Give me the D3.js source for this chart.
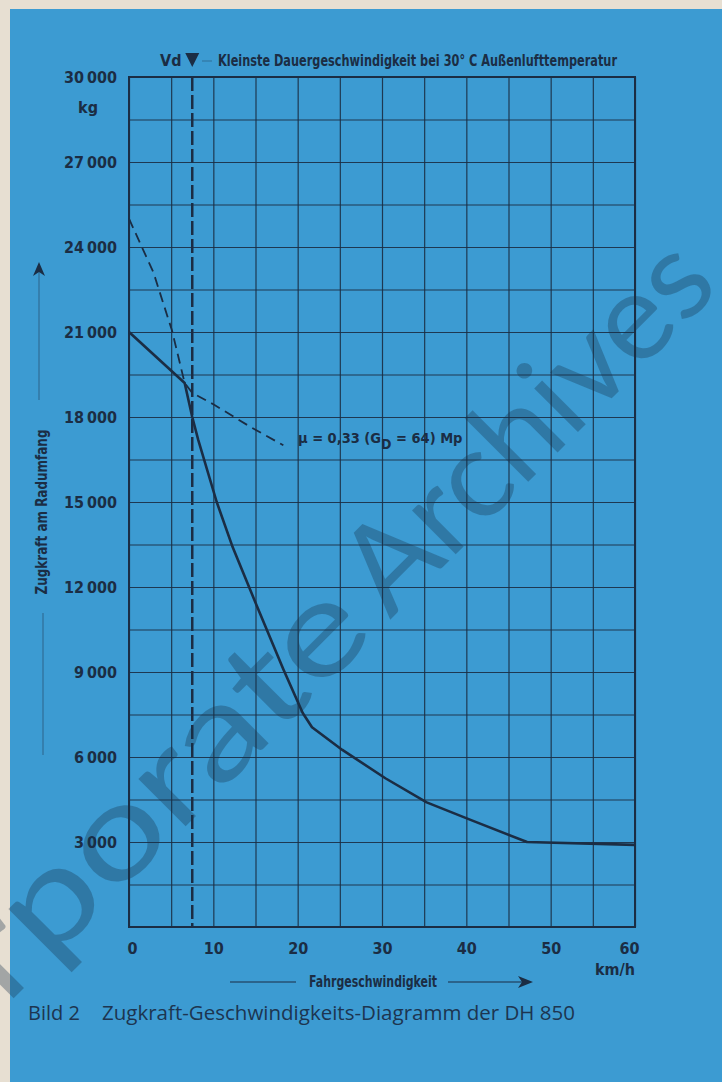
<!DOCTYPE html>
<html>
<head>
<meta charset="utf-8">
<script src="https://cdn.jsdelivr.net/npm/d3@7"></script>
<style>
  body { margin: 0; background: #e7dfd2; }
  svg { display: block; }
  .lbl { font-family: "Liberation Sans Narrow", "DejaVu Sans Condensed", sans-serif; font-weight: bold; fill: #1b2d44; }
</style>
</head>
<body>
<svg id="chart" width="722" height="1082"></svg>
<script>
// tick values
var xTickLabels = [0, 10, 20, 30, 40, 50, 60];
var yTickLabels = [3000, 6000, 9000, 12000, 15000, 18000, 21000, 24000, 27000, 30000];

// Zugkraft am Radumfang (km/h, kg)
var zugSpeed = [0, 6.6, 7.5, 8.2, 10.4, 12.3, 15.2, 18.3, 20.6, 21.7, 25.3, 30.4, 35.3, 40.5, 47.2, 60];
var zugForce = [21000, 19200, 18000, 17200, 15000, 13400, 11300, 9100, 7550, 7050, 6250, 5250, 4400, 3780, 3000, 2900];

// Reibungsgrenze mu = 0,33
var muSpeed = [0, 2.9, 5.1, 6.6, 7.5, 10, 14.4, 18.3];
var muForce = [25000, 23100, 21050, 19200, 18850, 18450, 17650, 17000];

var vd = 7.5;

var ink = "#1b2d44";
var margin = {top: 77, right: 87, bottom: 155, left: 129};
var width = 635 - margin.left,
    height = 927 - margin.top;

var svg = d3.select("#chart");

// page background
svg.append("rect")
  .attr("x", 10).attr("y", 9)
  .attr("width", 712).attr("height", 1073)
  .attr("fill", "#3c9bd2");

var x = d3.scaleLinear().domain([0, 60]).range([0, width]);
var y = d3.scaleLinear().domain([0, 30000]).range([height, 0]);

var g = svg.append("g")
  .attr("transform", "translate(" + margin.left + "," + margin.top + ")");

//Grid
g.append("g")
  .attr("class", "grid")
  .call(d3.axisLeft(y).tickValues(d3.range(0, 30001, 1500)).tickSize(-width).tickFormat(""));
g.append("g")
  .attr("class", "grid")
  .attr("transform", "translate(0," + height + ")")
  .call(d3.axisBottom(x).tickValues(d3.range(0, 61, 5)).tickSize(-height).tickFormat(""));
g.selectAll(".grid .domain").remove();
g.selectAll(".grid line")
  .style("stroke", ink)
  .style("stroke-width", 1.2)
  .style("stroke-opacity", 0.9);

//Frame
g.append("rect")
  .attr("width", width).attr("height", height)
  .attr("fill", "none")
  .style("stroke", ink)
  .style("stroke-width", 2);

//Axis labels
var fmt = function(d) { return d3.format(",")(d).replace(",", "\u2009"); };

var yAxis = g.append("g")
  .call(d3.axisLeft(y).tickValues(yTickLabels).tickSize(0).tickPadding(12).tickFormat(fmt));
yAxis.select(".domain").remove();
yAxis.selectAll("text").attr("class", "lbl").style("font-size", "16px");

var xAxis = g.append("g")
  .attr("transform", "translate(0," + height + ")")
  .call(d3.axisBottom(x).tickValues(xTickLabels).tickSize(0).tickPadding(16));
xAxis.select(".domain").remove();
xAxis.selectAll("text").attr("class", "lbl").style("font-size", "16px")
  .attr("dx", function(d) { return d == 0 ? 3 : (d == 60 ? -6 : 0); });

svg.append("text").attr("class", "lbl")
  .attr("x", 88).attr("y", 113)
  .attr("text-anchor", "middle")
  .style("font-size", "16px")
  .text("kg");

svg.append("text").attr("class", "lbl")
  .attr("x", 635).attr("y", 975)
  .attr("text-anchor", "end")
  .style("font-size", "16px")
  .text("km/h");

svg.append("text").attr("class", "lbl")
  .attr("x", 373).attr("y", 987)
  .attr("text-anchor", "middle")
  .attr("textLength", 128)
  .attr("lengthAdjust", "spacingAndGlyphs")
  .style("font-size", "15px")
  .text("Fahrgeschwindigkeit");

svg.append("line")
  .attr("x1", 230).attr("x2", 296).attr("y1", 982).attr("y2", 982)
  .style("stroke", ink).style("stroke-width", 1.2);
svg.append("line")
  .attr("x1", 448).attr("x2", 528).attr("y1", 982).attr("y2", 982)
  .style("stroke", ink).style("stroke-width", 1.2);
svg.append("path")
  .attr("d", "M518,976 L533,982 L518,988 L522,982 Z")
  .attr("fill", ink);

// y title
svg.append("text").attr("class", "lbl")
  .attr("transform", "translate(47,512) rotate(-90)")
  .attr("text-anchor", "middle")
  .attr("textLength", 165)
  .attr("lengthAdjust", "spacingAndGlyphs")
  .style("font-size", "15px")
  .text("Zugkraft am Radumfang");

svg.append("line")
  .attr("x1", 39).attr("x2", 39).attr("y1", 272).attr("y2", 400)
  .style("stroke", ink).style("stroke-width", 1).style("stroke-opacity", 0.5);
svg.append("path")
  .attr("d", "M33,276 L39,262 L45,276 L39,272 Z")
  .attr("fill", ink);
svg.append("line")
  .attr("x1", 43).attr("x2", 43).attr("y1", 613).attr("y2", 755)
  .style("stroke", ink).style("stroke-width", 1).style("stroke-opacity", 0.5);

//Header
svg.append("text").attr("class", "lbl")
  .attr("x", 160).attr("y", 66)
  .style("font-size", "16px")
  .text("Vd");
svg.append("path")
  .attr("d", "M" + (margin.left + x(vd) - 7) + ",53 L" + (margin.left + x(vd) + 7) + ",53 L" + (margin.left + x(vd)) + ",67 Z")
  .attr("fill", ink);
svg.append("line")
  .attr("x1", 202).attr("x2", 212).attr("y1", 61).attr("y2", 61)
  .style("stroke", ink).style("stroke-width", 1).style("stroke-opacity", 0.4);
svg.append("text").attr("class", "lbl")
  .attr("x", 218).attr("y", 66)
  .attr("textLength", 399)
  .attr("lengthAdjust", "spacingAndGlyphs")
  .style("font-size", "15.5px")
  .text("Kleinste Dauergeschwindigkeit bei 30° C Außenlufttemperatur");

//Vd line
g.append("line")
  .attr("x1", x(vd)).attr("x2", x(vd))
  .attr("y1", y(30000)).attr("y2", y(0))
  .style("stroke", ink)
  .style("stroke-width", 2.5)
  .style("stroke-dasharray", "14,4");

//Curves
var line = d3.line()
  .x(function(d) { return x(d[0]); })
  .y(function(d) { return y(d[1]); });

g.append("path")
  .datum(muSpeed.map(function(s, i) { return [s, muForce[i]]; }))
  .attr("fill", "none")
  .style("stroke", ink)
  .style("stroke-width", 1.8)
  .style("stroke-dasharray", "10,6")
  .attr("d", line);

g.append("path")
  .datum(zugSpeed.map(function(s, i) { return [s, zugForce[i]]; }))
  .attr("fill", "none")
  .style("stroke", ink)
  .style("stroke-width", 2.6)
  .style("stroke-linejoin", "round")
  .attr("d", line);

var mu = svg.append("text").attr("class", "lbl")
  .attr("x", 298).attr("y", 443)
  .style("font-size", "14.5px");
mu.append("tspan").text("\u03bc = 0,33 (G");
mu.append("tspan").attr("dy", 6).style("font-size", "14px").text("D");
mu.append("tspan").attr("dy", -6).text(" = 64) Mp");

//Caption
svg.append("text")
  .attr("x", 28).attr("y", 1020)
  .style("font-family", "'Open Sans', 'DejaVu Sans', sans-serif")
  .style("font-size", "20px")
  .attr("fill", "#1d3550")
  .text("Bild 2");
svg.append("text")
  .attr("x", 102).attr("y", 1020)
  .attr("textLength", 473)
  .attr("lengthAdjust", "spacingAndGlyphs")
  .style("font-family", "'Open Sans', 'DejaVu Sans', sans-serif")
  .style("font-size", "20px")
  .attr("fill", "#1d3550")
  .text("Zugkraft-Geschwindigkeits-Diagramm der DH 850");

//Watermark
var wm = svg.append("g")
  .attr("fill", "#14304a")
  .attr("fill-opacity", 0.33)
  .style("font-family", "Lato, 'Open Sans', sans-serif");
wm.append("text")
  .attr("transform", "translate(-136,1148) rotate(-45)")
  .attr("textLength", 726)
  .attr("lengthAdjust", "spacingAndGlyphs")
  .style("font-size", "132px")
  .text("Corporate");
wm.append("text")
  .attr("transform", "translate(390,620) rotate(-45)")
  .attr("textLength", 469)
  .attr("lengthAdjust", "spacingAndGlyphs")
  .style("font-size", "122px")
  .text("Archives");
</script>
</body>
</html>
